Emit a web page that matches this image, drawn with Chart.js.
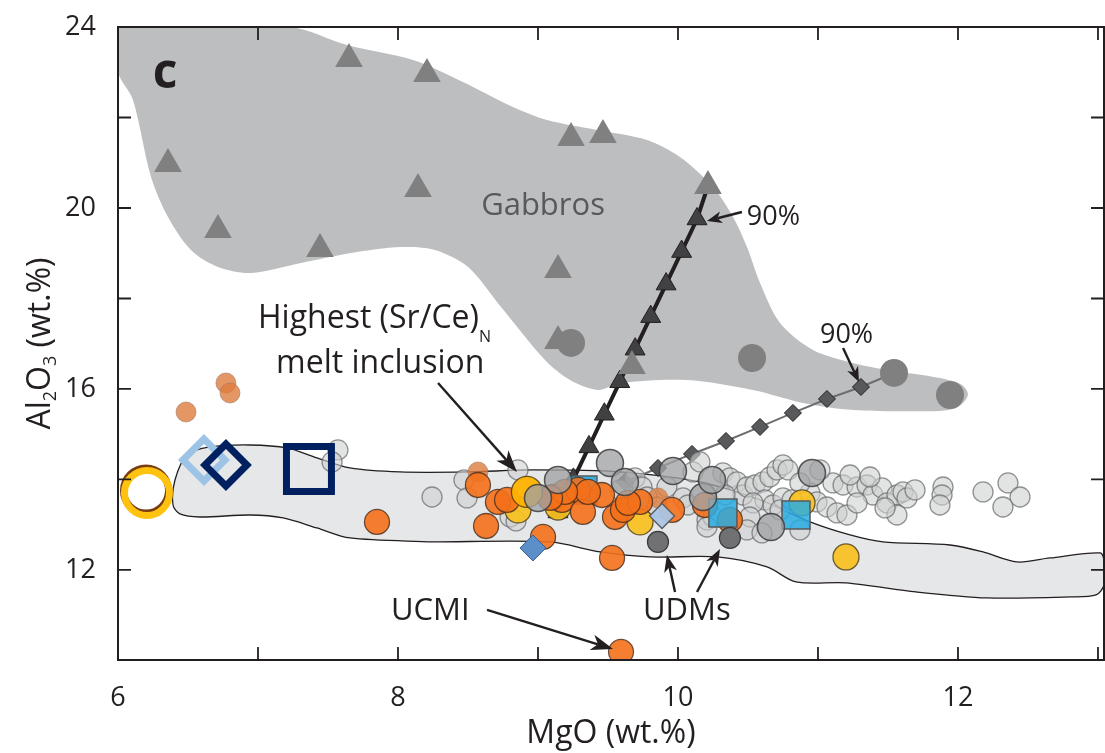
<!DOCTYPE html>
<html>
<head>
<meta charset="utf-8">
<script src="https://cdn.jsdelivr.net/npm/chart.js@4"></script>
<style>
  html, body { margin: 0; padding: 0; background: #ffffff; }
  #wrap { width: 1105px; height: 753px; position: relative; }
</style>
</head>
<body>
<div id="wrap"><canvas id="chart"></canvas></div>
<script>
// ---- MgO vs Al2O3 (wt.%) ----

// Outline of the gabbro field
const gabbroFieldMgO = [6.0, 7.229, 7.636, 8.107, 8.464, 8.821, 9.064, 9.421, 9.779, 10.014, 10.25, 10.393, 10.493, 10.586, 10.729, 10.964, 11.25, 11.493, 11.871, 12.029, 12.071, 12.0, 11.871, 11.25, 10.893, 10.536, 10.064, 9.586, 9.429, 9.229, 9.05, 8.736, 8.5, 8.264, 8.021, 7.664, 7.307, 6.95, 6.714, 6.521, 6.357, 6.236, 6.107, 6.0, 6.0];
const gabbroFieldAl  = [24.0, 24.0, 23.602, 23.271, 22.785, 22.232, 21.945, 21.724, 21.503, 21.127, 20.464, 19.801, 19.138, 18.343, 17.459, 16.862, 16.575, 16.42, 16.243, 16.09, 15.867, 15.6, 15.514, 15.536, 15.691, 15.978, 16.199, 16.133, 15.978, 16.199, 16.641, 17.812, 18.696, 19.072, 19.138, 19.006, 18.785, 18.564, 18.696, 19.072, 19.801, 20.685, 22.387, 23.006, 24.0];

// Outline of the melt-inclusion envelope
const envelopeMgO = [8.25, 7.657, 7.421, 7.179, 6.943, 6.586, 6.443, 6.393, 6.407, 6.493, 6.657, 6.943, 7.207, 7.421, 7.657, 8.014, 8.493, 8.964, 9.586, 10.157, 10.586, 10.943, 11.229, 11.464, 11.943, 12.179, 12.421, 12.657, 13.014, 13.043, 13.043, 12.986, 12.807, 12.207, 11.7, 11.2, 10.843, 10.636, 10.279, 9.8, 9.443, 9.086, 8.25];
const envelopeAl  = [12.619, 12.707, 12.928, 13.149, 13.215, 13.171, 13.238, 13.436, 13.989, 14.541, 14.718, 14.762, 14.696, 14.475, 14.254, 14.166, 14.166, 14.21, 14.166, 13.945, 13.547, 13.061, 12.773, 12.619, 12.552, 12.398, 12.177, 12.265, 12.376, 12.2, 11.669, 11.448, 11.403, 11.381, 11.514, 11.713, 11.735, 12.066, 12.287, 12.287, 12.398, 12.619, 12.619];

// Gabbro samples
const gabbroTriMgO = [6.357, 6.714, 7.443, 7.65, 8.207, 8.143, 9.236, 9.464, 10.214, 9.143, 9.143, 9.671];
const gabbroTriAl  = [20.972, 19.514, 19.094, 23.293, 22.961, 20.42, 21.547, 21.613, 20.486, 18.63, 17.061, 16.508];
const gabbroCirMgO = [9.236, 10.529, 11.543, 11.943];
const gabbroCirAl  = [17.017, 16.685, 16.354, 15.867];

// Mixing curves in 10% steps (last entry = gabbro end-member)
const mixTriMgO = [9.143, 9.253, 9.364, 9.474, 9.584, 9.694, 9.805, 9.915, 10.026, 10.136, 10.214];
const mixTriAl  = [13.282, 14.002, 14.72, 15.441, 16.159, 16.879, 17.598, 18.318, 19.037, 19.757, 20.486];
const mixDiaMgO = [9.621, 9.857, 10.1, 10.343, 10.586, 10.821, 11.064, 11.307, 11.543];
const mixDiaAl  = [13.945, 14.254, 14.564, 14.851, 15.161, 15.47, 15.779, 16.044, 16.354];

// Light grey circles
const greyMgO = [7.571, 7.529, 8.243, 8.471, 8.493, 8.857, 8.8, 8.843, 9.693, 9.743, 9.779, 9.85, 9.921, 10.036, 10.071, 10.107, 10.207, 10.25, 10.321, 10.371, 10.421, 10.464, 10.493, 10.55, 10.607, 10.657, 10.707, 10.75, 10.786, 10.621, 10.679, 10.75, 10.536, 10.514, 10.493, 10.6, 10.207, 10.729, 10.943, 10.993, 11.064, 11.136, 11.207, 11.107, 11.179, 11.279, 11.35, 11.393, 11.457, 11.493, 11.564, 11.607, 11.636, 11.564, 11.479, 11.279, 11.893, 11.886, 11.871, 12.179, 12.357, 12.443, 12.321, 11.014, 10.871, 10.814, 11.229, 11.371, 11.693, 10.157, 10.336, 10.871, 9.586];
const greyAl  = [14.652, 14.387, 13.613, 13.989, 13.591, 14.21, 13.171, 13.083, 14.033, 13.834, 13.613, 13.392, 13.834, 13.591, 13.436, 14.166, 13.105, 13.171, 14.144, 14.033, 13.945, 13.657, 13.834, 13.878, 13.945, 14.055, 14.21, 14.321, 14.21, 13.547, 13.436, 13.591, 13.481, 13.171, 12.884, 12.818, 12.95, 13.326, 13.702, 13.503, 13.392, 13.26, 13.215, 13.923, 13.878, 13.834, 13.878, 13.657, 13.812, 13.481, 13.657, 13.724, 13.591, 13.215, 13.37, 13.481, 13.834, 13.657, 13.436, 13.724, 13.923, 13.613, 13.392, 14.21, 13.923, 13.547, 14.099, 14.055, 13.768, 14.387, 13.657, 12.884, 13.768];

// Dark grey circles
const darkMgO = [9.143, 9.514, 9.621, 9.964, 9.0, 10.179, 10.243, 10.664, 10.957];
const darkAl  = [13.989, 14.365, 13.945, 14.188, 13.591, 13.613, 13.989, 12.95, 14.144];

// Pale orange circles
const paleMgO = [6.486, 6.771, 6.8, 8.571, 9.857];
const paleAl  = [15.492, 16.133, 15.912, 14.166, 13.591];

// Orange circles (last one = UCMI)
const orangeMgO = [8.571, 8.629, 8.714, 8.779, 9.036, 9.529, 9.107, 9.171, 9.286, 9.321, 9.457, 9.55, 9.607, 9.729, 9.957, 9.357, 9.643, 7.85, 10.193, 10.371, 9.193, 9.086, 9.593];
const orangeAl  = [13.878, 12.972, 13.503, 13.547, 12.729, 12.265, 13.613, 13.547, 13.768, 13.282, 13.657, 13.171, 13.326, 13.503, 13.326, 13.724, 13.481, 13.061, 13.436, 13.105, 13.724, 13.591, 10.188];

// Yellow circles
const yellowMgO = [8.857, 9.143, 9.729, 10.886, 11.2];
const yellowAl  = [13.326, 13.392, 13.061, 13.481, 12.287];
const amberMgO = [8.921];
const amberAl  = [13.724];

// Cyan squares
const cyanBackMgO = [9.321];
const cyanBackAl  = [13.768];
const cyanFrontMgO = [10.321, 10.843];
const cyanFrontAl  = [13.26, 13.215];

// Diamonds
const blueDiaMgO = [8.964];
const blueDiaAl  = [12.486];
const paleBlueDiaMgO = [9.886];
const paleBlueDiaAl  = [13.193];

// UDMs
const udmMgO = [9.857, 10.371];
const udmAl  = [12.619, 12.707];

// Open symbols at low MgO
const ringMgO = [6.207];
const ringAl  = [13.702];
const openDiaLightMgO = [6.614];
const openDiaLightAl  = [14.431];
const openDiaNavyMgO = [6.771];
const openDiaNavyAl  = [14.32];
const openSqMgO = [7.364];
const openSqAl  = [14.232];

// Axis ticks
const xTickValues = [6, 8, 10, 12];
const yTickValues = [12, 16, 20, 24];

// ---- helpers ----
const FONT = '"Open Sans", "DejaVu Sans", sans-serif';
const INK = '#231f20';
const pts = (xs, ys) => xs.map((x, i) => ({ x, y: ys[i] }));

function symbols(label, xs, ys, style, order, extra) {
  return Object.assign({
    type: 'scatter', label, data: pts(xs, ys), order,
    pointStyle: style.shape, pointRadius: style.r,
    pointBackgroundColor: style.fill, pointBorderColor: style.stroke || 'rgba(0,0,0,0)',
    pointBorderWidth: style.width || 0, showLine: false
  }, extra || {});
}

// ---- annotations ----
const arrows = [
  { from: [8.286, 16.133], to: [8.85, 14.166], len: 22, half: 8 },
  { from: [10.457, 19.912], to: [10.207, 19.713], len: 15, half: 6 },
  { from: [11.179, 16.906], to: [11.293, 16.155], len: 15, half: 6 },
  { from: [8.636, 11.116], to: [9.536, 10.254], len: 22, half: 8 },
  { from: [9.979, 11.514], to: [9.921, 12.332], len: 17, half: 6.5 },
  { from: [10.136, 11.514], to: [10.3, 12.464], len: 17, half: 6.5 }
];
const notes = [
  { parts: [{ t: 'c' }], at: [6.336, 22.652], size: 48, weight: 'bold', align: 'center', color: INK },
  { parts: [{ t: 'Gabbros' }], at: [9.036, 19.845], size: 31, align: 'center', color: '#58595b' },
  { parts: [{ t: '90%' }], at: [10.682, 19.624], size: 27, align: 'center', color: INK },
  { parts: [{ t: '90%' }], at: [11.204, 17.017], size: 27, align: 'center', color: INK },
  { parts: [{ t: 'Highest (Sr/Ce)' }, { t: 'N', scale: 0.5, drop: 0.45 }], at: [7.0, 17.348], size: 32, align: 'left', color: INK },
  { parts: [{ t: 'melt inclusion' }], at: [7.129, 16.354], size: 32, align: 'left', color: INK },
  { parts: [{ t: 'UCMI' }], at: [7.95, 10.895], size: 31, align: 'left', color: INK },
  { parts: [{ t: 'UDMs' }], at: [9.75, 10.895], size: 31, align: 'left', color: INK }
];
const yTitleParts = [{ t: 'Al' }, { t: '2', scale: 0.55, drop: 0.2 }, { t: 'O' }, { t: '3', scale: 0.55, drop: 0.2 }, { t: ' (wt.%)' }];

function drawParts(ctx, parts, x, y, size, weight, align, color) {
  const fontOf = p => `${weight || 'normal'} ${Math.round(size * (p.scale || 1))}px ${FONT}`;
  let total = 0;
  parts.forEach(p => { ctx.font = fontOf(p); total += ctx.measureText(p.t).width; });
  let cx = align === 'center' ? x - total / 2 : x;
  ctx.fillStyle = color;
  ctx.textAlign = 'left';
  ctx.textBaseline = 'alphabetic';
  parts.forEach(p => {
    ctx.font = fontOf(p);
    ctx.fillText(p.t, cx, y + (p.drop || 0) * size);
    cx += ctx.measureText(p.t).width;
  });
}

function drawArrow(ctx, x1, y1, x2, y2, len, half) {
  const a = Math.atan2(y2 - y1, x2 - x1);
  const c = Math.cos(a), s = Math.sin(a);
  const bx = x2 - len * c, by = y2 - len * s;
  const nx = x2 - len * 0.72 * c, ny = y2 - len * 0.72 * s;
  ctx.beginPath();
  ctx.moveTo(x1, y1);
  ctx.lineTo(nx, ny);
  ctx.stroke();
  ctx.beginPath();
  ctx.moveTo(x2, y2);
  ctx.lineTo(bx + half * s, by - half * c);
  ctx.lineTo(nx, ny);
  ctx.lineTo(bx - half * s, by + half * c);
  ctx.closePath();
  ctx.fill();
}

// Keep only ticks inside the axis range and drop label overflow padding
function trimTicks(scale) {
  scale.ticks = scale.ticks.filter(t => t.value >= scale.min - 1e-9 && t.value <= scale.max + 1e-9);
}
function noPadding(scale) {
  scale.paddingTop = 0; scale.paddingBottom = 0; scale.paddingLeft = 0; scale.paddingRight = 0;
}

// Frame with inward tick marks on all four sides
const framePlugin = {
  id: 'frame',
  afterDatasetsDraw(chart) {
    const { ctx, chartArea: a, scales: { x, y } } = chart;
    const T = 13;
    ctx.save();
    ctx.strokeStyle = INK;
    ctx.lineWidth = 2;
    ctx.strokeRect(a.left, a.top, a.right - a.left, a.bottom - a.top);
    ctx.lineWidth = 1.8;
    ctx.beginPath();
    x.ticks.forEach(t => {
      const p = x.getPixelForValue(t.value);
      if (p <= a.left + 2 || p >= a.right - 2) return;
      ctx.moveTo(p, a.bottom); ctx.lineTo(p, a.bottom - T);
      ctx.moveTo(p, a.top); ctx.lineTo(p, a.top + T);
    });
    y.ticks.forEach(t => {
      const p = y.getPixelForValue(t.value);
      if (p <= a.top + 2 || p >= a.bottom - 2) return;
      ctx.moveTo(a.left, p); ctx.lineTo(a.left + T, p);
      ctx.moveTo(a.right, p); ctx.lineTo(a.right - T, p);
    });
    ctx.stroke();
    ctx.restore();
  },
  afterDraw(chart) {
    const { ctx, chartArea: a, scales: { x, y } } = chart;
    ctx.save();
    ctx.strokeStyle = INK;
    ctx.fillStyle = INK;
    ctx.lineWidth = 2.4;
    ctx.lineCap = 'butt';
    arrows.forEach(ar => drawArrow(ctx,
      x.getPixelForValue(ar.from[0]), y.getPixelForValue(ar.from[1]),
      x.getPixelForValue(ar.to[0]), y.getPixelForValue(ar.to[1]), ar.len, ar.half));
    notes.forEach(n => drawParts(ctx, n.parts, x.getPixelForValue(n.at[0]), y.getPixelForValue(n.at[1]),
      n.size, n.weight, n.align, n.color));
    // y-axis title with subscripts
    ctx.translate(50, (a.top + a.bottom) / 2);
    ctx.rotate(-Math.PI / 2);
    drawParts(ctx, yTitleParts, 0, 0, 32, 'normal', 'center', INK);
    ctx.restore();
  }
};

// Brownish offset edge under the open ring
const ringEdgePlugin = {
  id: 'ringEdge',
  beforeDatasetDraw(chart, args) {
    const ds = chart.data.datasets[args.index];
    if (!ds.edgeColor) return;
    const ctx = chart.ctx;
    ctx.save();
    ctx.shadowColor = ds.edgeColor;
    ctx.shadowOffsetX = -1;
    ctx.shadowOffsetY = -2.5;
    ctx.shadowBlur = 0;
  },
  afterDatasetDraw(chart, args) {
    const ds = chart.data.datasets[args.index];
    if (!ds.edgeColor) return;
    chart.ctx.restore();
  }
};

const datasets = [
  { type: 'line', label: 'Gabbro field', data: pts(gabbroFieldMgO, gabbroFieldAl), order: 100,
    fill: 'shape', backgroundColor: '#bcbec0', borderColor: 'rgba(0,0,0,0)', borderWidth: 0,
    pointRadius: 0, tension: 0.3 },
  { type: 'line', label: 'Melt inclusion envelope', data: pts(envelopeMgO, envelopeAl), order: 99,
    fill: 'shape', backgroundColor: '#e6e7e8', borderColor: INK, borderWidth: 1.3,
    pointRadius: 0, tension: 0.3 },
  { type: 'line', label: 'Mixing (triangles)', data: pts(mixTriMgO, mixTriAl), order: 90,
    fill: false, borderColor: INK, borderWidth: 4, tension: 0,
    pointStyle: 'triangle', pointRadius: mixTriMgO.map((v, i) => i < mixTriMgO.length - 1 ? 11.5 : 0),
    pointBackgroundColor: '#414042', pointBorderColor: INK, pointBorderWidth: 1 },
  { type: 'line', label: 'Mixing (diamonds)', data: pts(mixDiaMgO, mixDiaAl), order: 89,
    fill: false, borderColor: '#6d6e71', borderWidth: 2, tension: 0,
    pointStyle: 'rectRot', pointRadius: mixDiaMgO.map((v, i) => i < mixDiaMgO.length - 1 ? 8.5 : 0),
    pointBackgroundColor: '#58595b', pointBorderColor: INK, pointBorderWidth: 1 },
  symbols('Gabbro triangles', gabbroTriMgO, gabbroTriAl, { shape: 'triangle', r: 16, fill: '#808080' }, 80),
  symbols('Gabbro circles', gabbroCirMgO, gabbroCirAl, { shape: 'circle', r: 14, fill: '#808080' }, 80),
  symbols('Light grey', greyMgO, greyAl, { shape: 'circle', r: 10, fill: 'rgba(206,208,209,0.6)', stroke: 'rgba(110,111,113,0.75)', width: 1.3 }, 70),
  symbols('Pale orange', paleMgO, paleAl, { shape: 'circle', r: 10, fill: 'rgba(222,124,62,0.8)', stroke: 'rgba(160,120,95,0.6)', width: 1 }, 66),
  symbols('Cyan squares (back)', cyanBackMgO, cyanBackAl, { shape: 'rect', r: 19.8, fill: 'rgba(41,171,226,0.92)', stroke: '#58595b', width: 1.5 }, 64),
  symbols('Yellow', yellowMgO, yellowAl, { shape: 'circle', r: 13, fill: 'rgba(249,193,30,0.92)', stroke: 'rgba(80,65,30,0.85)', width: 1.3 }, 62),
  symbols('Orange', orangeMgO, orangeAl, { shape: 'circle', r: 12.5, fill: 'rgba(244,112,26,0.9)', stroke: 'rgba(70,45,30,0.8)', width: 1.3 }, 60,
    { clip: { left: 30, top: 30, right: 30, bottom: 0 } }),
  symbols('Amber', amberMgO, amberAl, { shape: 'circle', r: 15.5, fill: 'rgba(255,178,0,0.95)', stroke: 'rgba(80,60,20,0.85)', width: 1.3 }, 55),
  symbols('Cyan squares', cyanFrontMgO, cyanFrontAl, { shape: 'rect', r: 19.8, fill: 'rgba(41,171,226,0.85)', stroke: '#58595b', width: 1.5 }, 50),
  symbols('Dark grey', darkMgO, darkAl, { shape: 'circle', r: 13.5, fill: 'rgba(160,161,163,0.78)', stroke: 'rgba(60,60,62,0.85)', width: 1.5 }, 45),
  symbols('Blue diamond', blueDiaMgO, blueDiaAl, { shape: 'rectRot', r: 13, fill: '#5b8fc9', stroke: '#3d5f8a', width: 1 }, 46),
  symbols('Pale blue diamond', paleBlueDiaMgO, paleBlueDiaAl, { shape: 'rectRot', r: 12.5, fill: 'rgba(170,197,228,0.95)', stroke: '#58595b', width: 1.3 }, 40),
  symbols('UDMs', udmMgO, udmAl, { shape: 'circle', r: 10.5, fill: '#717174', stroke: '#3a3a3c', width: 1.2 }, 35),
  symbols('Open ring', ringMgO, ringAl, { shape: 'circle', r: 22.5, fill: 'rgba(0,0,0,0)', stroke: '#ffc20e', width: 7 }, 30,
    { edgeColor: '#7a3d12' }),
  symbols('Open diamond (light)', openDiaLightMgO, openDiaLightAl, { shape: 'rectRot', r: 21, fill: 'rgba(0,0,0,0)', stroke: '#9dc3e6', width: 7 }, 31),
  symbols('Open diamond (navy)', openDiaNavyMgO, openDiaNavyAl, { shape: 'rectRot', r: 21, fill: 'rgba(0,0,0,0)', stroke: '#002060', width: 7 }, 30),
  symbols('Open square', openSqMgO, openSqAl, { shape: 'rect', r: 31.8, fill: 'rgba(0,0,0,0)', stroke: '#002060', width: 7 }, 30)
];

new Chart(document.getElementById('chart'), {
  type: 'scatter',
  data: { datasets },
  plugins: [ringEdgePlugin, framePlugin],
  options: {
    responsive: true,
    maintainAspectRatio: false,
    animation: false,
    events: [],
    layout: { autoPadding: false, padding: { top: 27, right: 1, left: 0, bottom: 0 } },
    plugins: { legend: { display: false }, tooltip: { enabled: false } },
    scales: {
      x: {
        type: 'linear', min: 6, max: 13.043,
        afterBuildTicks: trimTicks,
        afterFit: s => { s.height = 93; noPadding(s); },
        grid: { display: false, drawTicks: false },
        border: { display: false },
        ticks: {
          stepSize: 1, includeBounds: false, autoSkip: false, maxRotation: 0, padding: 22,
          color: INK, font: { family: FONT, size: 27 },
          callback: v => xTickValues.includes(v) ? String(v) : ''
        },
        title: { display: true, text: 'MgO (wt.%)', color: INK, font: { family: FONT, size: 32 }, padding: { top: 0, bottom: 0 } }
      },
      y: {
        type: 'linear', min: 10.01, max: 24,
        afterBuildTicks: trimTicks,
        afterFit: s => { s.width = 118; noPadding(s); },
        grid: { display: false, drawTicks: false },
        border: { display: false },
        ticks: {
          stepSize: 2, includeBounds: false, autoSkip: false, padding: 22,
          color: INK, font: { family: FONT, size: 27 },
          callback: v => yTickValues.includes(v) ? String(v) : ''
        }
      }
    }
  }
});
</script>
</body>
</html>
